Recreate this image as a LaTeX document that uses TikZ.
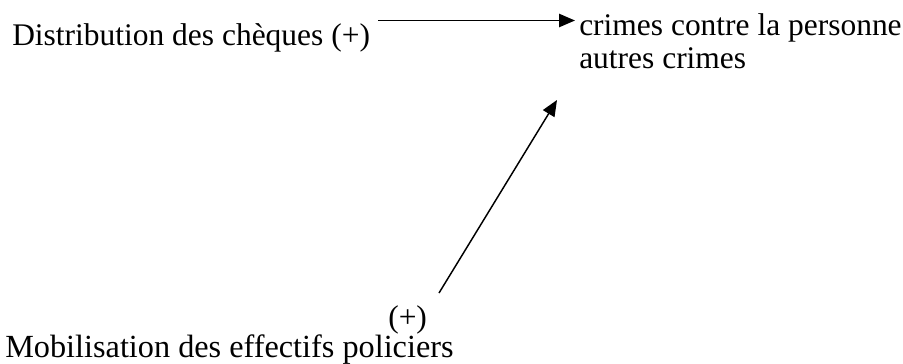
\documentclass[tikz,border=0pt]{standalone}
\usepackage{fontspec}
\setmainfont{Liberation Serif}
\usetikzlibrary{arrows.meta}
\begin{document}
\begin{tikzpicture}[x=0.75pt,y=-0.75pt,
  lbl/.style={anchor=base west,inner sep=0pt,font=\fontsize{23.6pt}{26pt}\selectfont},
  lblb/.style={lbl,font=\fontsize{24.2pt}{26pt}\selectfont},
  conn/.style={line width=1.1pt,-{Triangle[length=12pt,width=10pt]}}]
\useasboundingbox (0,0) rectangle (903,364);
\node[lbl] (dist) at (12,45) {Distribution des chèques (+)};
\node[lbl] (crim) at (579,35) {crimes contre la personne};
\node[lbl] (autr) at (579,68) {autres crimes};
\node[lbl] (plus) at (388,327) {(+)};
\node[lblb] (mobi) at (5,357) {Mobilisation des effectifs policiers};
\coordinate (h1) at (378,20.5);
\coordinate (h2) at (575,20.5);
\coordinate (d1) at (439,293);
\coordinate (d2) at (557,100);
\draw[conn] (h1) -- (h2);
\draw[conn] (d1) -- (d2);
\end{tikzpicture}
\end{document}
